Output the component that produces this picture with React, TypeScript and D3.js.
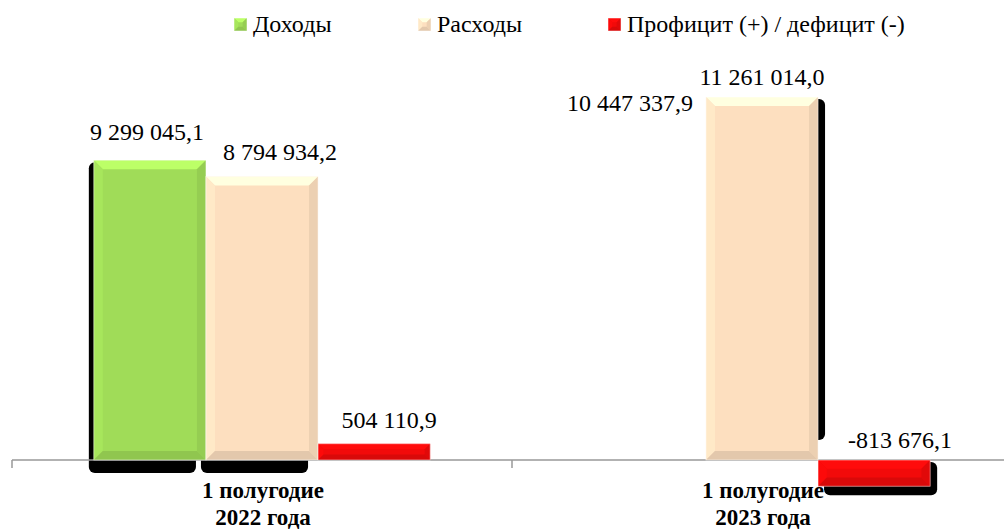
import * as d3 from "d3";

const categories = [
    ["1 полугодие", "2022 года"],
    ["1 полугодие", "2023 года"],
];
const seriesNames = ["Доходы", "Расходы", "Профицит (+) / дефицит (-)"];
const income = [9299045.1, 10447337.9];
const expenses = [8794934.2, 11261014.0];
const balance = [504110.9, -813676.1];
const seriesColors = ["#a0dc58", "#fddfbf", "#f20a0a"];

// the income bar of the second half-year is not drawn in the source picture
const hiddenBars = new Set(["1-0"]);
// bars without a visible drop shadow
const noShadow = new Set(["0-2"]);

const ruLocale = d3.formatLocale({
    decimal: ",",
    thousands: " ",
    grouping: [3],
    currency: ["", ""],
    minus: "-",
});
const fmt = ruLocale.format(",.1f");

const width = 1004;
const height = 529;
const baseY = 460;
const topY = 97;
const fontStyle = { fontFamily: "Liberation Serif" };

// hand-placed label nudges, per group / series (like the source chart)
const labelDx = [
    [-3, 18, 15],
    [-20, 0, 26],
];
const labelGap = [
    [20, 16, 16],
    [12, 12, 12],
];

function BevelBar({ x, y, w, h, color }: { x: number; y: number; w: number; h: number; color: string }) {
    const b = Math.min(9, h / 3, w / 3);
    const c = d3.color(color)!;
    const pts = (p: number[][]) => p.map((q) => q.join(",")).join(" ");
    return (
        <g>
            <rect x={x} y={y} width={w} height={h} fill={color} />
            <polygon points={pts([[x, y], [x + w, y], [x + w - b, y + b], [x + b, y + b]])} fill={c.brighter(0.45).toString()} />
            <polygon points={pts([[x, y], [x + b, y + b], [x + b, y + h - b], [x, y + h]])} fill={c.brighter(0.12).toString()} />
            <polygon points={pts([[x + w, y], [x + w, y + h], [x + w - b, y + h - b], [x + w - b, y + b]])} fill={c.darker(0.2).toString()} />
            <polygon points={pts([[x, y + h], [x + b, y + h - b], [x + w - b, y + h - b], [x + w, y + h]])} fill={c.darker(0.3).toString()} />
            <rect x={x} y={y} width={w} height={h} fill="none" stroke="#fff" strokeOpacity={0.6} strokeWidth={0.8} />
        </g>
    );
}

export default function App() {
    const values = [income, expenses, balance];
    const x0 = d3.scaleBand<number>().domain([0, 1]).range([12, 1012]).paddingInner(0).paddingOuter(0);
    const x1 = d3.scaleBand<number>().domain([0, 1, 2]).range([0, x0.bandwidth()]).paddingInner(0).paddingOuter(0.73);
    const y = d3.scaleLinear().domain([0, d3.max(expenses)!]).range([baseY, topY]);

    const bars = categories.flatMap((_c, gi) =>
        values.map((vals, si) => {
            const v = vals[gi];
            const bx = x0(gi)! + x1(si)!;
            const top = Math.min(y(v), y(0));
            const h = Math.abs(y(v) - y(0));
            return { gi, si, v, x: bx, y: top, w: x1.bandwidth(), h, key: `${gi}-${si}` };
        })
    );

    const legendX = [234, 418, 608];

    return (
        <div style={{ position: "absolute", left: 0, top: 0 }}>
            <svg width={width} height={height} style={{ display: "block" }}>
                <rect width={width} height={height} fill="#fff" />
                {/* legend */}
                {seriesNames.map((name, i) => (
                    <g key={name} transform={`translate(${legendX[i]},0)`}>
                        <BevelBar x={0} y={18} w={13} h={13} color={seriesColors[i]} />
                        <text x={19} y={32} fontSize={24} style={fontStyle} fill="#000">
                            {name}
                        </text>
                    </g>
                ))}
                {/* drop shadows */}
                {bars
                    .filter((d) => !hiddenBars.has(d.key) && !noShadow.has(d.key))
                    .map((d) =>
                        d.gi === 0 ? (
                            <rect key={`s${d.key}`} x={d.x - 5} y={d.y + 2} width={d.w - 5} height={d.h + 11} rx={6} fill="#000" />
                        ) : (
                            <rect key={`s${d.key}`} x={d.x + 6} y={d.y + 2} width={d.w + 1} height={d.h + (d.v < 0 ? 7 : -22)} rx={6} fill="#000" />
                        )
                    )}
                {/* axis */}
                <line x1={12} x2={width} y1={baseY} y2={baseY} stroke="#999" strokeWidth={1.5} />
                {[0, 1, 2].map((i) => (
                    <line key={i} x1={12 + i * x0.step()} x2={12 + i * x0.step()} y1={baseY} y2={baseY + 8} stroke="#999" strokeWidth={1.5} />
                ))}
                {/* category labels */}
                {categories.map((c, gi) => (
                    <text key={gi} textAnchor="middle" fontWeight="bold" fontSize={23} style={fontStyle} fill="#000">
                        <tspan x={x0(gi)! + x0.bandwidth() / 2 + 1} y={498}>{c[0]}</tspan>
                        <tspan x={x0(gi)! + x0.bandwidth() / 2 + 1} y={525}>{c[1]}</tspan>
                    </text>
                ))}
                {/* bars */}
                {bars
                    .filter((d) => !hiddenBars.has(d.key))
                    .map((d) => (
                        <BevelBar key={`b${d.key}`} x={d.x} y={d.y} w={d.w} h={d.h} color={seriesColors[d.si]} />
                    ))}
                {/* value labels */}
                {bars.map((d) => (
                    <text
                        key={`l${d.key}`}
                        x={d.x + d.w / 2 + labelDx[d.gi][d.si]}
                        y={d.v < 0 ? y(0) - labelGap[d.gi][d.si] : y(d.v) - labelGap[d.gi][d.si]}
                        textAnchor="middle"
                        fontSize={24}
                        style={fontStyle}
                        fill="#000"
                    >
                        {fmt(d.v)}
                    </text>
                ))}
            </svg>
        </div>
    );
}
